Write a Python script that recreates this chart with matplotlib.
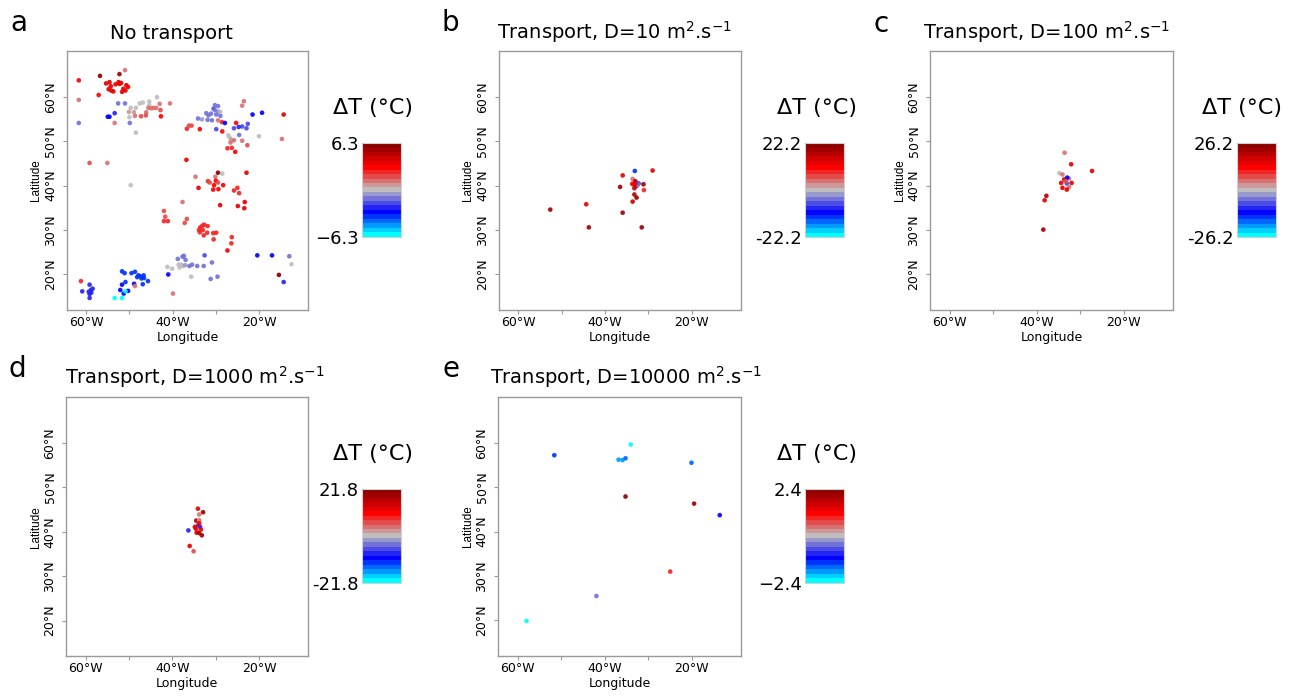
import numpy as np
import matplotlib
matplotlib.use("Agg")
import matplotlib.pyplot as plt
from matplotlib.colors import LinearSegmentedColormap, ListedColormap, Normalize
from matplotlib.cm import ScalarMappable

plt.rcParams['font.family'] = ['DejaVu Sans']

# ---------------- data ----------------
# Panel a : No transport
a_lon = [-61.7, -56.8, -52.3, -51.0, -57.1,
         -55.4, -54.6, -54.3, -54.8, -54.2, -53.7, -53.2, -52.5, -52.3, -51.9, -51.4, -50.7, -50.3, -51.7, -50.9,
         -61.7, -61.7, -59.2, -55.1, -52.6, -51.0, -53.4, -55.0, -54.6, -53.4,
         -49.7, -48.5, -50.1, -50.0, -49.9, -48.5, -48.95, -48.7, -47.6, -46.9, -45.4, -45.4, -43.6, -43.0, -43.8,
         -44.9, -45.6, -44.4, -46.1, -47.3, -46.2, -42.8, -42.7, -40.6,
         -36.8, -36.7, -36.2, -35.6, -33.7, -34.1, -33.2,
         -32.2, -31.7, -31.1, -30.5, -30.2, -29.5, -29.9, -29.3, -28.95, -31.9, -30.9, -30.2,
         -28.95, -29.5, -28.6, -27.9, -25.3, -23.9, -23.5, -21.5, -19.3, -14.3, -14.7,
         -22.6, -23.9, -24.7, -25.8, -22.9, -29.9, -28.5, -27.1, -26.8, -26.4, -26.6, -25.8, -24.6, -23.9, -22.7,
         -20.0, -27.3, -26.3, -25.5,
         -29.5, -28.5, -22.9, -34.7, -30.1, -31.8, -31.4, -30.0, -29.5, -30.4, -29.4, -30.6, -28.3, -34.0, -25.8,
         -25.0, -24.6, -29.0, -24.9, -23.3, -23.4, -49.7, -37.7, -42.0, -41.7, -42.0, -41.1, -36.7, -37.2,
         -33.6, -33.1, -32.7, -31.9, -33.9, -33.7, -33.0, -32.0, -32.8, -30.6, -29.9, -30.5, -26.3, -26.4, -27.3,
         -38.8, -37.7, -37.4, -37.0, -38.6, -38.0, -38.4, -37.6, -37.1, -40.1, -41.2, -41.0, -36.1, -35.5, -34.3,
         -32.8, -32.6, -30.9, -35.7, -31.2, -29.6, -39.9, -20.4, -17.0, -13.0, -12.5, -15.4, -14.3,
         -61.2, -60.9, -59.2, -58.5, -58.9, -59.2, -59.4, -59.2, -58.8,
         -51.7, -51.1, -49.5, -48.7, -47.9, -48.2, -47.5, -46.7, -46.6, -47.2, -45.7, -46.9, -48.9, -50.9, -51.7,
         -52.1, -50.3, -51.3,
         -48.7, -50.9, -53.4, -51.7]
a_lat = [63.7, 64.7, 65.1, 66.0, 60.4,
         63.0, 63.3, 62.4, 61.7, 61.4, 61.2, 62.8, 63.3, 62.9, 63.1, 61.8, 62.6, 62.2, 61.1, 61.4,
         59.3, 54.1, 45.1, 45.1, 58.5, 58.5, 56.3, 55.5, 55.5, 54.1,
         57.5, 57.5, 56.6, 55.4, 54.1, 51.9, 56.5, 55.7, 58.5, 58.7, 58.9, 58.1, 59.9, 58.4, 57.5,
         57.4, 57.5, 57.5, 56.5, 55.6, 55.8, 57.0, 55.6, 58.5,
         45.8, 52.8, 53.5, 53.5, 52.7, 55.1, 54.9,
         56.3, 55.8, 56.2, 57.3, 58.1, 57.9, 56.0, 56.6, 55.7, 54.8, 54.7, 57.0,
         56.6, 54.7, 54.3, 54.1, 54.1, 58.0, 59.0, 56.0, 56.4, 56.0, 50.5,
         53.9, 53.3, 53.2, 52.9, 52.9, 52.7, 52.2, 51.3, 50.8, 50.3, 49.7, 50.2, 51.4, 50.1, 49.1,
         51.1, 48.4, 48.5, 47.6,
         42.9, 42.7, 42.9, 42.0, 42.0, 41.0, 40.7, 41.1, 40.7, 40.1, 39.2, 39.1, 40.1, 39.5, 38.9,
         39.5, 38.3, 35.6, 35.4, 36.3, 34.9, 40.1, 36.3, 34.3, 33.0, 32.0, 32.0, 32.5, 31.6,
         30.6, 31.0, 31.2, 30.9, 30.0, 29.5, 30.0, 29.4, 28.8, 29.3, 29.4, 27.9, 28.4, 27.0, 25.4,
         23.5, 24.0, 24.2, 23.3, 22.2, 22.2, 21.6, 21.9, 22.1, 21.3, 21.7, 20.0, 21.9, 22.2, 21.9,
         21.9, 24.3, 22.7, 19.5, 19.0, 19.5, 15.7, 24.3, 24.3, 24.1, 22.3, 19.9, 18.3,
         18.5, 16.2, 17.7, 16.8, 16.5, 15.6, 16.1, 14.7, 15.9,
         20.7, 20.3, 20.3, 20.6, 19.8, 19.4, 19.6, 19.8, 19.2, 19.1, 18.5, 17.8, 17.9, 18.3, 17.7,
         16.5, 16.3, 15.7,
         17.4, 16.2, 14.7, 14.7]
a_dT = [3.2, 5.8, 5.6, 1.0, 3.0,
        3.4, 3.4, 3.4, 3.4, 3.4, 3.4, 3.4, 3.4, 3.4, 3.4, 3.4, 3.4, 3.4, 3.4, 3.4,
        1.4, -1.0, 1.8, 1.2, -1.4, -1.4, -2.6, -3.3, -3.0, 1.4,
        0.0, 0.2, 0.6, 0.0, -1.1, 0.0, 0.8, 1.2, 0.1, 0.1, 0.0, 0.0, 0.0, 1.0, 1.3,
        1.2, 1.2, 1.2, 1.4, 1.8, 1.6, 1.8, 2.8, 1.0,
        3.3, 2.2, 1.5, 1.5, 2.8, -1.1, -0.5,
        -1.2, -1.4, -1.2, -1.6, -1.4, -1.2, -1.0, -1.2, -1.4, -1.0, -1.2, -1.5,
        0.0, 1.0, 2.5, -3.3, 3.0, 1.3, 1.2, -2.8, -2.8, 3.3, 1.3,
        -2.0, -2.0, -2.2, -1.8, -1.8, -1.8, 3.0, 0.0, 0.2, 0.8, 1.2, 1.0, -1.2, 1.0, 1.5,
        0.0, 2.5, 2.5, 2.7,
        5.8, 0.0, 3.3, 1.2, 1.3, 2.5, 2.0, 2.8, 1.8, 3.0, 3.0, 3.0, 2.8, 3.5, 2.5,
        2.5, 2.5, 3.5, 3.5, 3.5, 3.5, 0.0, 1.2, 2.0, 2.0, 2.2, 2.2, 2.0, 2.0,
        2.2, 2.2, 2.2, 2.2, 2.2, 2.2, 2.2, 2.2, 2.2, 2.2, 2.2, 2.2, 2.4, 2.4, 3.0,
        -1.3, -1.0, -1.0, -1.0, -0.3, -0.2, -0.2, -0.2, -0.8, 0.0, 0.0, -3.3, -1.2, -1.2, -1.2,
        -1.2, -1.8, -1.5, 0.0, -1.2, -1.2, 1.3, -3.3, -3.3, -1.2, 0.0, 5.8, -2.5,
        2.2, -2.3, -2.3, -2.3, -2.3, -2.3, -2.3, -2.3, -2.3,
        -3.5, -3.5, -3.5, -3.5, -3.5, -3.5, -3.5, -3.5, -3.5, -3.5, -3.5, -3.5, -3.3, -3.5, -3.3,
        -3.3, -3.3, -3.3,
        1.2, -6.0, -6.0, -6.0]

# Panel b : D = 10
b_lon = [-52.6, -44.3, -43.7, -35.9, -31.5, -33.1, -29.0, -35.9, -36.5, -33.6, -33.0, -32.6, -32.2, -33.3,
         -32.8, -33.7, -32.4, -33.0, -31.1, -31.0, -33.2, -33.2, -32.7, -33.6]
b_lat = [34.6, 35.8, 30.6, 33.9, 30.6, 43.3, 43.4, 42.3, 39.7, 41.5, 41.0, 40.6, 40.5, 40.2,
         39.9, 40.4, 40.2, 40.5, 40.3, 39.0, 39.4, 38.0, 37.3, 36.4]
b_dT = [20.0, 12.0, 20.0, 19.0, 20.0, -12.0, 12.0, 12.0, 18.0, 5.0, 16.0, -8.0, -6.0, 14.0,
        18.0, 10.0, -5.0, 12.0, 18.0, 9.0, 14.0, 17.0, 18.0, 14.0]

# Panel c : D = 100
c_lon = [-33.6, -32.1, -27.3, -34.8, -34.1, -33.7, -34.4, -32.6, -32.0, -33.1, -33.0, -32.6, -34.1, -33.1,
         -33.4, -37.8, -38.2, -38.5]
c_lat = [47.4, 44.8, 43.3, 42.8, 42.5, 41.4, 40.6, 41.6, 40.6, 40.5, 41.8, 39.7, 39.5, 39.1,
         41.0, 37.7, 36.7, 30.1]
c_dT = [4.0, 14.0, 14.0, 1.0, 5.0, 14.0, 14.0, 5.0, 14.0, -8.0, -12.0, 5.0, 14.0, 14.0,
        8.0, 20.0, 14.0, 22.0]

# Panel d : D = 1000
d_lon = [-34.1, -32.9, -33.8, -34.5, -33.8, -34.0, -33.6, -33.4, -34.8, -34.1, -34.4, -33.8, -33.2,
         -36.3, -36.0, -35.1, -34.6, -33.8]
d_lat = [45.2, 44.4, 43.9, 42.5, 42.6, 41.5, 41.1, 40.5, 41.1, 40.0, 39.8, 39.7, 39.2,
         40.3, 36.8, 35.6, 40.7, 41.9]
d_dT = [12.0, 18.0, 5.0, 17.0, 4.0, -12.0, -8.0, 12.0, 12.0, 5.0, 12.0, 17.0, 18.0,
        -8.0, 12.0, 7.0, 12.0, 10.0]

# Panel e : D = 10000
e_lon = [-58.0, -51.6, -41.9, -36.8, -35.9, -35.2, -34.0, -35.2, -24.9, -20.0, -19.4, -13.5]
e_lat = [19.9, 57.2, 25.5, 56.2, 56.1, 56.5, 59.6, 47.9, 31.0, 55.5, 46.3, 43.7]
e_dT = [-2.3, -1.3, -0.5, -1.9, -1.8, -1.7, -2.3, 2.2, 0.85, -1.6, 2.1, -1.2]

panel_letters = ["a", "b", "c", "d", "e"]
panel_titles = ["No transport",
                r"Transport, D=10 m$^{2}$.s$^{\mathregular{-1}}$",
                r"Transport, D=100 m$^{2}$.s$^{\mathregular{-1}}$",
                r"Transport, D=1000 m$^{2}$.s$^{\mathregular{-1}}$",
                r"Transport, D=10000 m$^{2}$.s$^{\mathregular{-1}}$"]
vmax_list = [6.3, 22.2, 26.2, 21.8, 2.4]
cb_low_labels = ["\u22126.3", "-22.2", "-26.2", "-21.8", "\u22122.4"]
cb_high_labels = ["6.3", "22.2", "26.2", "21.8", "2.4"]

lon_ticks = [-60, -50, -40, -30, -20]
lon_ticklabels = ["60°W", "", "40°W", "", "20°W"]
lat_ticks = [20, 30, 40, 50, 60]
lat_ticklabels = ["20°N", "30°N", "40°N", "50°N", "60°N"]

# ---------------- figure ----------------
W, H = 1296, 696
fig = plt.figure(figsize=(W / 100, H / 100), dpi=100)

base = LinearSegmentedColormap.from_list("dt", ["#00FFFF", "#0000FF", "#BEBEBE", "#FF0000", "#8B0000"])
cmap = ListedColormap(base(np.linspace(0, 1, 21)))


def rect(l, t, r, b):
    return [l / W, 1 - b / H, (r - l) / W, (b - t) / H]


# pixel layouts: axes (l,t,r,b), colorbar (l,t,r,b), offsets
axes_px = [(66.7, 51, 308.3, 310), (498.7, 51, 741, 310), (930.3, 51, 1173.3, 310),
           (66.3, 397.3, 308.3, 656), (498.3, 397, 741, 656)]
cbar_px = [(361.7, 142.7, 400.7, 236.7), (805, 143, 844, 237), (1237, 143, 1276, 237),
           (361.7, 488.7, 400.7, 582.7), (805, 488.7, 844, 582.7)]
cbar_title_xy = [(373, 108), (816.7, 108), (1241.7, 108), (373, 454), (816.7, 454)]
letter_xy = [(10, 31), (442, 31), (873, 32), (9, 377), (442, 377)]
title_xy = [(171.7, 39.3, "center"), (496.7, 39.3, "left"), (923.3, 39.3, "left"),
            (65, 384.3, "left"), (490, 384.3, "left")]

data = [(a_lon, a_lat, a_dT), (b_lon, b_lat, b_dT), (c_lon, c_lat, c_dT),
        (d_lon, d_lat, d_dT), (e_lon, e_lat, e_dT)]

frame_col = "#9a9a9a"

for i in range(5):
    l, t, r, b = axes_px[i]
    ax = fig.add_axes(rect(l, t, r, b))
    lon, lat, dT = data[i]
    vm = vmax_list[i]
    norm = Normalize(-vm, vm)
    ax.scatter(lon, lat, c=dT, cmap=cmap, norm=norm, s=11, linewidths=0, alpha=0.92)
    ax.set_xlim(-64.5, -8.6)
    ax.set_ylim(12.0, 70.3)
    for sp in ax.spines.values():
        sp.set_color(frame_col)
        sp.set_linewidth(1.0)
    ax.set_xticks(lon_ticks)
    ax.set_xticklabels(lon_ticklabels, fontsize=9)
    ax.set_yticks(lat_ticks)
    ax.set_yticklabels(lat_ticklabels, fontsize=9, rotation=90, va="center")
    ax.tick_params(axis="both", direction="out", length=3, width=0.8, color=frame_col)
    ax.tick_params(axis="x", pad=1.5)
    ax.tick_params(axis="y", pad=4)
    fig.text(((l + r) / 2) / W, 1 - (b + 27) / H, "Longitude", fontsize=9, ha="center", va="center")
    fig.text((l - 30.7) / W, 1 - ((t + b) / 2) / H, "Latitude", fontsize=8.5, ha="center", va="center",
             rotation=90, family=["Liberation Sans", "DejaVu Sans"])

    # panel letter & title
    lx, ly = letter_xy[i]
    fig.text(lx / W, 1 - ly / H, panel_letters[i], fontsize=20, ha="left", va="baseline")
    tx, ty, tha = title_xy[i]
    fig.text(tx / W, 1 - ty / H, panel_titles[i], fontsize=14, ha=tha, va="baseline")

    # colorbar
    cl, ct, cr, cbt = cbar_px[i]
    cax = fig.add_axes(rect(cl, ct, cr, cbt))
    sm = ScalarMappable(norm=norm, cmap=cmap)
    cb = fig.colorbar(sm, cax=cax, orientation="vertical")
    cb.outline.set_edgecolor("#d0d0d0")
    cb.outline.set_linewidth(0.8)
    cax.yaxis.set_ticks_position("left")
    cb.set_ticks([-vm, vm])
    cb.set_ticklabels([cb_low_labels[i], cb_high_labels[i]])
    cax.tick_params(length=0, labelsize=13, pad=2)
    cx, cy = cbar_title_xy[i]
    fig.text(cx / W, 1 - cy / H, "ΔT (°C)", fontsize=16, ha="center", va="center")

fig.savefig("out.png", dpi=100)
